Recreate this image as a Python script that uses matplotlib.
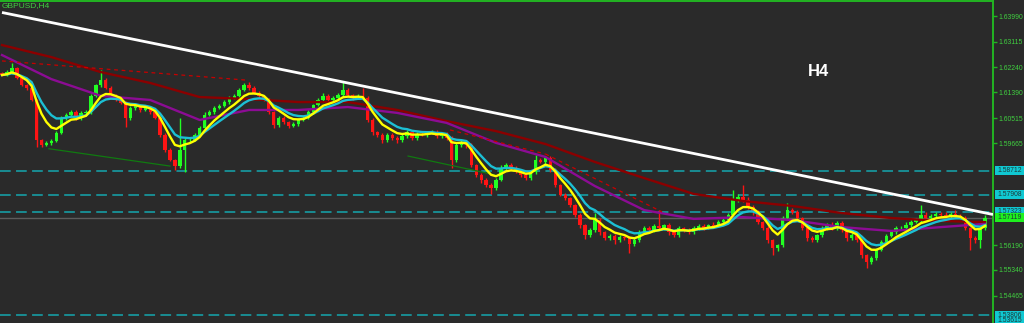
import numpy as np
import pandas as pd
import matplotlib
matplotlib.use("Agg")
import matplotlib.pyplot as plt
from matplotlib import font_manager
from matplotlib.patches import Rectangle
from matplotlib.transforms import blended_transform_factory

# ---------------- data ----------------
first_open = 1.6205
closes = [
    1.6198, 1.6208, 1.6222, 1.6188, 1.6164, 1.6154, 1.6113, 1.5977, 1.5960, 1.5967,
    1.5974, 1.6001, 1.6052, 1.6062, 1.6072, 1.6052, 1.6069, 1.6072, 1.6127, 1.6164,
    1.6181, 1.6154, 1.6130, 1.6113, 1.6103, 1.6052, 1.6086, 1.6093, 1.6079, 1.6086,
    1.6072, 1.6052, 1.5994, 1.5943, 1.5909, 1.5888, 1.5943, 1.5977, 1.5977, 1.5994,
    1.6018, 1.6062, 1.6072, 1.6086, 1.6093, 1.6106, 1.6120, 1.6127, 1.6147, 1.6164,
    1.6154, 1.6137, 1.6127, 1.6113, 1.6072, 1.6028, 1.6052, 1.6038, 1.6025, 1.6031,
    1.6045, 1.6052, 1.6072, 1.6096, 1.6113, 1.6127, 1.6113, 1.6120, 1.6130, 1.6147,
    1.6130, 1.6120, 1.6127, 1.6120, 1.6045, 1.6004, 1.5994, 1.5977, 1.5994, 1.5984,
    1.5977, 1.5990, 1.6004, 1.5984, 1.5997, 1.5994, 1.6001, 1.6004, 1.5990, 1.5997,
    1.5984, 1.5909, 1.5960, 1.5970, 1.5960, 1.5892, 1.5858, 1.5841, 1.5824, 1.5813,
    1.5841, 1.5881, 1.5892, 1.5881, 1.5868, 1.5858, 1.5847, 1.5868, 1.5909, 1.5902,
    1.5915, 1.5875, 1.5824, 1.5790, 1.5779, 1.5755, 1.5721, 1.5687, 1.5653, 1.5670,
    1.5704, 1.5663, 1.5643, 1.5650, 1.5636, 1.5646, 1.5643, 1.5623, 1.5636, 1.5663,
    1.5677, 1.5670, 1.5684, 1.5677, 1.5687, 1.5663, 1.5653, 1.5677, 1.5670, 1.5663,
    1.5677, 1.5684, 1.5677, 1.5687, 1.5684, 1.5698, 1.5704, 1.5721, 1.5773, 1.5783,
    1.5773, 1.5749, 1.5732, 1.5698, 1.5677, 1.5636, 1.5609, 1.5619, 1.5711, 1.5738,
    1.5732, 1.5711, 1.5677, 1.5643, 1.5636, 1.5653, 1.5677, 1.5687, 1.5677, 1.5694,
    1.5670, 1.5643, 1.5653, 1.5636, 1.5585, 1.5561, 1.5575, 1.5602, 1.5629, 1.5650,
    1.5663, 1.5677, 1.5677, 1.5687, 1.5698, 1.5704, 1.5721, 1.5711, 1.5718, 1.5725,
    1.5721, 1.5718, 1.5725, 1.5718, 1.5711, 1.5677, 1.5643, 1.5636, 1.5677, 1.5711,
]
upper_wick_pips = [
    5, 6, 17, 4, 5, 4, 6, 5, 4, 6,
    5, 6, 8, 5, 6, 7, 5, 6, 8, 5,
    34, 6, 5, 4, 6, 8, 7, 10, 6, 5,
    6, 5, 4, 6, 5, 4, 109, 8, 6, 5,
    7, 10, 6, 5, 8, 6, 5, 7, 6, 8,
    10, 6, 5, 4, 6, 5, 7, 6, 5, 6,
    5, 8, 6, 5, 7, 10, 6, 5, 6, 26,
    6, 5, 8, 27, 6, 5, 4, 6, 8, 5,
    6, 7, 8, 5, 6, 8, 5, 7, 6, 5,
    6, 5, 8, 6, 5, 6, 4, 5, 6, 5,
    8, 10, 6, 5, 7, 4, 5, 8, 16, 6,
    5, 6, 5, 4, 6, 5, 4, 6, 5, 8,
    24, 6, 5, 7, 6, 8, 5, 6, 10, 6,
    8, 7, 6, 54, 5, 6, 7, 8, 5, 6,
    7, 6, 8, 5, 10, 6, 7, 8, 33, 10,
    41, 8, 6, 5, 4, 6, 5, 4, 8, 24,
    8, 6, 5, 4, 6, 5, 8, 6, 10, 7,
    6, 5, 8, 6, 5, 4, 6, 7, 8, 6,
    7, 8, 6, 10, 7, 8, 34, 10, 8, 7,
    8, 10, 6, 12, 8, 6, 5, 6, 8, 10,
]
lower_wick_pips = [
    5, 4, 6, 5, 4, 6, 5, 24, 6, 5,
    6, 5, 4, 6, 5, 6, 8, 5, 6, 5,
    6, 5, 6, 5, 4, 31, 6, 8, 6, 5,
    6, 5, 8, 6, 5, 14, 6, 75, 6, 5,
    5, 6, 4, 6, 5, 4, 6, 5, 4, 5,
    6, 5, 6, 5, 8, 10, 6, 8, 6, 5,
    6, 5, 4, 6, 5, 4, 6, 5, 4, 6,
    5, 6, 4, 5, 8, 10, 6, 12, 6, 8,
    10, 6, 5, 8, 6, 5, 6, 5, 8, 6,
    6, 28, 8, 6, 10, 8, 6, 10, 8, 20,
    6, 5, 8, 6, 5, 6, 8, 5, 6, 5,
    6, 8, 6, 5, 8, 6, 8, 10, 12, 8,
    6, 10, 8, 6, 12, 6, 8, 31, 6, 8,
    6, 8, 5, 6, 8, 10, 6, 5, 8, 6,
    5, 6, 8, 5, 6, 5, 4, 6, 5, 6,
    6, 8, 10, 6, 8, 10, 24, 10, 6, 5,
    6, 8, 6, 10, 8, 6, 5, 6, 8, 6,
    6, 10, 8, 6, 10, 20, 8, 6, 5, 6,
    5, 6, 8, 5, 6, 5, 6, 8, 6, 5,
    6, 5, 8, 6, 5, 8, 41, 10, 27, 8,
]

# slow moving averages read at every 10th bar
ma_sample_bars = [0, 10, 20, 30, 40, 50, 60, 70, 80, 90, 100,
                  110, 120, 130, 140, 150, 160, 170, 180, 190, 199]
purple_ma = [1.6266, 1.6184, 1.6127, 1.6113, 1.6045, 1.6079, 1.6079, 1.6089,
             1.6069, 1.6035, 1.5967, 1.5919, 1.5820, 1.5738, 1.5708, 1.5714,
             1.5704, 1.5680, 1.5667, 1.5680, 1.5691]
maroon_ma = [1.6300, 1.6259, 1.6208, 1.6171, 1.6123, 1.6116, 1.6106, 1.6106,
             1.6079, 1.6041, 1.6007, 1.5963, 1.5902, 1.5847, 1.5793, 1.5769,
             1.5752, 1.5728, 1.5711, 1.5701, 1.5697]

fast_span = 6
mid_span = 10

# drawn objects: (bar, price) anchor pairs
white_trend = [(0.0, 1.6411), (200.6, 1.5723)]
red_dash_lines = [[(0.0, 1.6246), (49.2, 1.6181)],
                  [(90.7, 1.6011), (110.0, 1.5929)],
                  [(110.0, 1.5929), (133.6, 1.5732)]]
green_lines = [[(9.5, 1.5947), (34.0, 1.5888)],
               [(82.2, 1.5922), (99.8, 1.5858)]]

level_lines = [1.58712, 1.57908, 1.57323, 1.53806]
current_price = 1.57119
extra_label = 1.53615
tick_values = [1.63990, 1.63115, 1.62240, 1.61390, 1.60515, 1.59665,
               1.56190, 1.55340, 1.54465]
symbol_title = "GBPUSD,H4"
big_label = "H4"

# ---------------- styles ----------------
BG = "#2a2a2a"
GRN_AX = "#22b422"
TXT_G = "#40d040"
UP = "#22ff22"
DN = "#ff1414"
FONT = "Liberation Sans"
_names = {f.name for f in font_manager.fontManager.ttflist}
AX_FONT = "Liberation Sans Narrow" if "Liberation Sans Narrow" in _names else FONT
AX_SIZE = 6.0 if AX_FONT != FONT else 4.9

fig = plt.figure(figsize=(10.24, 3.23), dpi=100)
fig.patch.set_facecolor(BG)
ax = fig.add_axes([0, 0, 993 / 1024, 322 / 323])
ax.set_facecolor(BG)

n = len(closes)
x = np.arange(n)
c = np.array(closes)
o = np.concatenate([[first_open], c[:-1]])
hi = np.maximum(o, c) + np.array(upper_wick_pips) * 0.0001
lo = np.minimum(o, c) - np.array(lower_wick_pips) * 0.0001
up = c >= o
cols = np.where(up, UP, DN)

ax.vlines(x, lo, hi, colors=cols, lw=1.0, zorder=2)
body_h = np.maximum(np.abs(c - o), 0.00008)
ax.bar(x, body_h, bottom=np.minimum(o, c), width=0.68, color=cols,
       linewidth=0, zorder=3)

# level lines
for lv in level_lines:
    ax.axhline(lv, color="#14a6ae", lw=1.1, ls=(0, (7, 3.5)), zorder=1)
ax.axhline(current_price, color="#5c5c5c", lw=1.0, zorder=1)

# moving averages
s = pd.Series(closes)
ema_fast = s.ewm(span=fast_span, adjust=False).mean()
ema_mid = s.ewm(span=mid_span, adjust=False).mean()
ax.plot(ma_sample_bars, maroon_ma, color="#8b0000", lw=1.7, zorder=4)
ax.plot(ma_sample_bars, purple_ma, color="#8c0c94", lw=1.7, zorder=4)
ax.plot(x, ema_mid, color="#1cc0d4", lw=1.7, zorder=5)
ax.plot(x, ema_fast, color="#ffff00", lw=1.7, zorder=6)

# drawn trend objects
for seg in red_dash_lines:
    ax.plot([p[0] for p in seg], [p[1] for p in seg], color="#c80000",
            lw=0.9, ls=(0, (3, 3)), zorder=4)
for seg in green_lines:
    ax.plot([p[0] for p in seg], [p[1] for p in seg], color="#107a10",
            lw=0.9, zorder=4)
ax.plot([p[0] for p in white_trend], [p[1] for p in white_trend],
        color="white", lw=2.0, zorder=7, solid_capstyle="butt")

# axes limits (bar i at pixel 2 + 4.94 i)
ax.set_xlim(-0.405, 200.6)
ax.set_ylim(1.53535, 1.64501)

for side in ["left", "bottom"]:
    ax.spines[side].set_visible(False)
for side in ["top", "right"]:
    ax.spines[side].set_color(GRN_AX)
    ax.spines[side].set_linewidth(1.4)
ax.set_xticks([])
ax.yaxis.tick_right()
ax.set_yticks(tick_values)
ax.set_yticklabels([f"{v:.5f}" for v in tick_values])
ax.tick_params(axis="y", colors=GRN_AX, length=3, width=1, pad=1.0,
               labelcolor=TXT_G, labelsize=AX_SIZE)
for t in ax.get_yticklabels():
    t.set_fontfamily(AX_FONT)

# price labels with boxes at the right
blend = blended_transform_factory(fig.transFigure, ax.transData)
box_h = 9 * 0.00034055


def price_box(val, face):
    ax.add_patch(Rectangle((995 / 1024, val - box_h / 2), 29 / 1024, box_h,
                           transform=blend, facecolor=face, edgecolor="none",
                           clip_on=False, zorder=10))
    ax.text(997 / 1024, val, f"{val:.5f}", transform=blend, ha="left",
            va="center", fontsize=AX_SIZE, family=AX_FONT, color="#1c3a3a",
            clip_on=False, zorder=11)


for lv in level_lines:
    price_box(lv, "#10c8d2")
price_box(extra_label, "#10c8d2")
price_box(current_price, "#1ef01e")

fig.text(2 / 1024, 1 - 2 / 323, symbol_title, ha="left", va="top",
         fontsize=6.0, family=FONT, color=TXT_G)
fig.text(808 / 1024, 1 - 64 / 323, big_label, ha="left", va="top",
         fontsize=12, family=FONT, fontweight="bold", color="white")

fig.savefig("out.png", dpi=100, facecolor=BG)
